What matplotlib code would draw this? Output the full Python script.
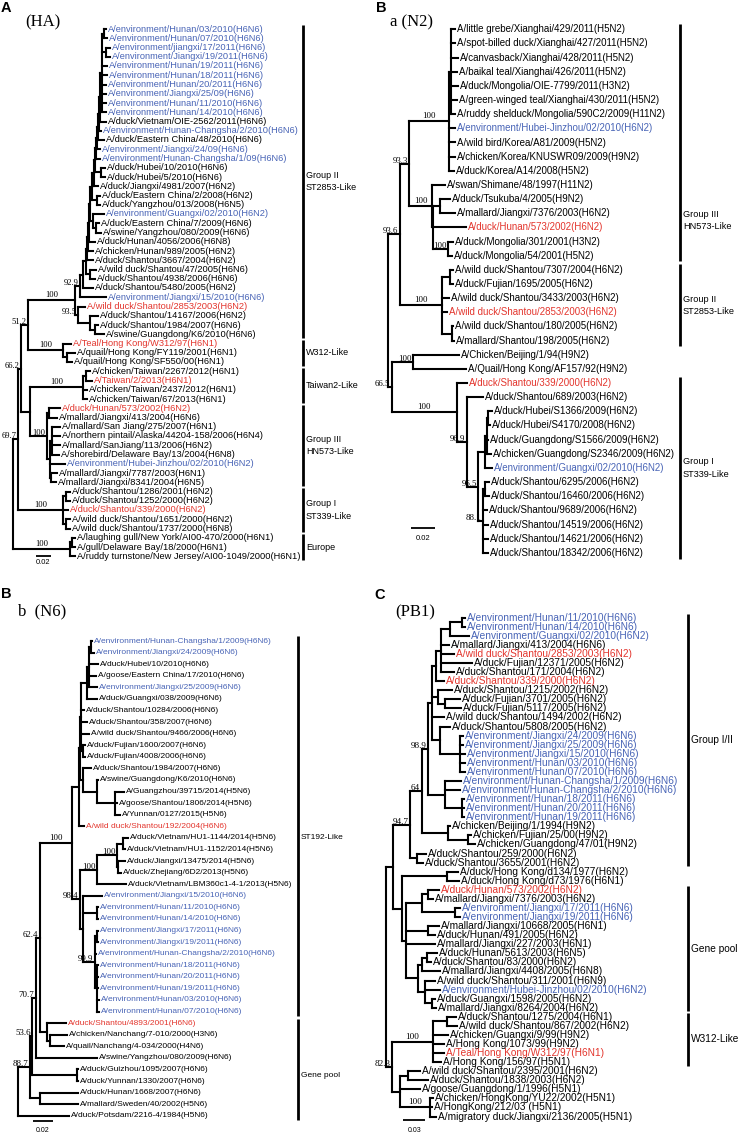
import matplotlib
matplotlib.use("Agg")
import matplotlib.pyplot as plt
from matplotlib.collections import LineCollection

W, H = 739, 1135
BLUE = "#4864b6"
RED = "#e3352d"
INK = {"k": "black", "b": BLUE, "r": RED}
SANS = "Liberation Sans"
SERIF = "Liberation Serif"

# distances from the root are in 1e-3 substitutions/site
# nodes: (first tip, last tip, distance from root, bootstrap)

#------------------------------------------------
#----------------- (HA) -------------------------
#------------------------------------------------
ha_labels = [
    "A/environment/Hunan/03/2010(H6N6)", "A/environment/Hunan/07/2010(H6N6)",
    "A/environment/jiangxi/17/2011(H6N6)", "A/environment/Jiangxi/19/2011(H6N6)",
    "A/environment/Hunan/19/2011(H6N6)", "A/environment/Hunan/18/2011(H6N6)",
    "A/environment/Hunan/20/2011(H6N6)", "A/environment/Jiangxi/25/09(H6N6)",
    "A/environment/Hunan/11/2010(H6N6)", "A/environment/Hunan/14/2010(H6N6)",
    "A/duck/Vietnam/OIE-2562/2011(H6N6)", "A/environment/Hunan-Changsha/2/2010(H6N6)",
    "A/duck/Eastern China/48/2010(H6N6)", "A/environment/Jiangxi/24/09(H6N6)",
    "A/environment/Hunan-Changsha/1/09(H6N6)", "A/duck/Hubei/10/2010(H6N6)",
    "A/duck/Hubei/5/2010(H6N6)", "A/duck/Jiangxi/4981/2007(H6N2)",
    "A/duck/Eastern China/2/2008(H6N2)", "A/duck/Yangzhou/013/2008(H6N5)",
    "A/environment/Guangxi/02/2010(H6N2)", "A/duck/Eastern China/7/2009(H6N6)",
    "A/swine/Yangzhou/080/2009(H6N6)", "A/duck/Hunan/4056/2006(H6N8)",
    "A/chicken/Hunan/989/2005(H6N2)", "A/duck/Shantou/3667/2004(H6N2)",
    "A/wild duck/Shantou/47/2005(H6N6)", "A/duck/Shantou/4938/2006(H6N6)",
    "A/duck/Shantou/5480/2005(H6N2)", "A/environment/Jiangxi/15/2010(H6N6)",
    "A/wild duck/Shantou/2853/2003(H6N2)", "A/duck/Shantou/14167/2006(H6N2)",
    "A/duck/Shantou/1984/2007(H6N6)", "A/swine/Guangdong/K6/2010(H6N6)",
    "A/Teal/Hong Kong/W312/97(H6N1)", "A/quail/Hong Kong/FY119/2001(H6N1)",
    "A/quail/Hong Kong/SF550/00(H6N1)", "A/chicken/Taiwan/2267/2012(H6N1)",
    "A/Taiwan/2/2013(H6N1)", "A/chicken/Taiwan/2437/2012(H6N1)",
    "A/chicken/Taiwan/67/2013(H6N1)", "A/duck/Hunan/573/2002(H6N2)",
    "A/mallard/Jiangxi/413/2004(H6N6)", "A/mallard/San Jiang/275/2007(H6N1)",
    "A/northern pintail/Alaska/44204-158/2006(H6N4)", "A/mallard/SanJiang/113/2006(H6N2)",
    "A/shorebird/Delaware Bay/13/2004(H6N8)", "A/environment/Hubei-Jinzhou/02/2010(H6N2)",
    "A/mallard/Jiangxi/7787/2003(H6N1)", "A/mallard/Jiangxi/8341/2004(H6N5)",
    "A/duck/Shantou/1286/2001(H6N2)", "A/duck/Shantou/1252/2000(H6N2)",
    "A/duck/Shantou/339/2000(H6N2)", "A/wild duck/Shantou/1651/2000(H6N2)",
    "A/wild duck/Shantou/1737/2000(H6N8)", "A/laughing gull/New York/AI00-470/2000(H6N1)",
    "A/gull/Delaware Bay/18/2000(H6N1)", "A/ruddy turnstone/New Jersey/AI00-1049/2000(H6N1)",
]
ha_colors = "bbbbbbbbbbkbkbbkkkkkbkkkkkkkkbrkkkrkkkrkkrkkkkkbkkkkrkkkkk"
ha_tip_depth = [
    126.9, 128.2, 132.3, 132.3, 128.2, 128.2, 126.9, 126.9, 126.9, 126.9,
    126.9, 120.1, 124.2, 118.7, 118.7, 125.5, 125.5, 116.0, 118.7, 118.7,
    124.2, 117.4, 120.1, 111.9, 109.2, 109.2, 113.3, 111.9, 109.2, 126.9,
    98.3, 116.0, 116.0, 124.2, 79.3, 84.7, 80.6, 105.1, 107.8, 101.0,
    101.0, 64.3, 60.2, 64.3, 64.3, 64.3, 63.0, 71.1, 60.2, 58.9,
    77.9, 77.9, 75.2, 77.9, 77.9, 84.7, 84.7, 84.7,
]
ha_nodes = [
    (0, 57, 0.0, None), (0, 54, 7.2, 69.7), (0, 49, 11.3, 66.2), (0, 36, 20.8, 51.2),
    (37, 49, 23.5, None), (0, 33, 84.7, 100), (0, 29, 91.5, 92.9), (0, 28, 95.6, None),
    (0, 27, 99.7, None), (26, 27, 105.1, None), (0, 25, 101.0, None), (0, 24, 102.4, None),
    (0, 23, 103.8, None), (0, 22, 105.1, None), (20, 22, 109.2, None), (21, 22, 113.3, None),
    (0, 19, 107.8, None), (18, 19, 114.6, None), (0, 17, 110.6, None), (0, 16, 111.9, None),
    (15, 16, 120.1, None), (0, 14, 113.3, None), (0, 13, 114.6, None), (0, 12, 116.0, None),
    (0, 11, 117.4, None), (0, 10, 118.7, None), (0, 9, 121.4, None), (0, 1, 124.2, None),
    (2, 3, 126.9, None), (30, 33, 88.8, 93.5), (31, 33, 105.1, None), (32, 33, 111.9, None),
    (34, 36, 68.4, 100), (35, 36, 73.8, None), (37, 40, 95.6, 100), (37, 38, 99.7, None),
    (41, 49, 46.6, 100), (41, 42, 49.4, None), (43, 49, 50.7, None), (43, 46, 53.4, None),
    (48, 49, 52.1, None), (50, 54, 68.4, 100), (50, 51, 72.5, None), (53, 54, 72.5, None),
    (55, 57, 77.9, 100), (55, 56, 80.6, None),
]
ha_groups = [
    (0, 33, "Group II\nST2853-Like"), (34, 36, "W312-Like"), (37, 40, "Taiwan2-Like"),
    (41, 49, "Group III\nHN573-Like"), (50, 54, "Group I\nST339-Like"), (55, 57, "Europe"),
]
ha_scale = 20

#------------------------------------------------
#----------------- a (N2) -----------------------
#------------------------------------------------
n2_labels = [
    "A/little grebe/Xianghai/429/2011(H5N2)", "A/spot-billed duck/Xianghai/427/2011(H5N2)",
    "A/canvasback/Xianghai/428/2011(H5N2)", "A/baikal teal/Xianghai/426/2011(H5N2)",
    "A/duck/Mongolia/OIE-7799/2011(H3N2)", "A/green-winged teal/Xianghai/430/2011(H5N2)",
    "A/ruddy shelduck/Mongolia/590C2/2009(H11N2)", "A/environment/Hubei-Jinzhou/02/2010(H6N2)",
    "A/wild bird/Korea/A81/2009(H5N2)", "A/chicken/Korea/KNUSWR09/2009(H9N2)",
    "A/duck/Korea/A14/2008(H5N2)", "A/swan/Shimane/48/1997(H11N2)",
    "A/duck/Tsukuba/4/2005(H9N2)", "A/mallard/Jiangxi/7376/2003(H6N2)",
    "A/duck/Hunan/573/2002(H6N2)", "A/duck/Mongolia/301/2001(H3N2)",
    "A/duck/Mongolia/54/2001(H5N2)", "A/wild duck/Shantou/7307/2004(H6N2)",
    "A/duck/Fujian/1695/2005(H6N2)", "A/wild duck/Shantou/3433/2003(H6N2)",
    "A/wild duck/Shantou/2853/2003(H6N2)", "A/wild duck/Shantou/180/2005(H6N2)",
    "A/mallard/Shantou/198/2005(H6N2)", "A/Chicken/Beijing/1/94(H9N2)",
    "A/Quail/Hong Kong/AF157/92(H9N2)", "A/duck/Shantou/339/2000(H6N2)",
    "A/duck/Shantou/689/2003(H6N2)", "A/duck/Hubei/S1366/2009(H6N2)",
    "A/duck/Hubei/S4170/2008(H6N2)", "A/duck/Guangdong/S1566/2009(H6N2)",
    "A/chicken/Guangdong/S2346/2009(H6N2)", "A/environment/Guangxi/02/2010(H6N2)",
    "A/duck/Shantou/6295/2006(H6N2)", "A/duck/Shantou/16460/2006(H6N2)",
    "A/duck/Shantou/9689/2006(H6N2)", "A/duck/Shantou/14519/2006(H6N2)",
    "A/duck/Shantou/14621/2006(H6N2)", "A/duck/Shantou/18342/2006(H6N2)",
]
n2_colors = "kkkkkkkbkkkkkkrkkkkkrkkkkrkkkkkbkkkkkk"
n2_tip_depth = [
    54.9, 54.9, 57.4, 56.5, 57.4, 56.5, 54.9, 54.9, 54.9, 54.9,
    54.1, 46.4, 50.8, 54.9, 63.9, 53.2, 52.4, 53.2, 53.2, 50.0,
    48.3, 53.2, 54.1, 58.2, 63.9, 64.8, 77.9, 85.3, 83.7, 82.1,
    84.5, 85.3, 82.9, 82.9, 81.2, 82.1, 82.1, 82.1,
]
n2_nodes = [
    (0, 37, 0.0, None), (0, 22, 9.6, 93.6), (0, 16, 17.3, 93.3), (0, 10, 50.2, 100),
    (0, 6, 52.0, None), (11, 16, 35.7, 100), (12, 16, 37.2, None), (12, 13, 42.5, None),
    (15, 16, 49.4, 100), (17, 22, 43.9, 100), (17, 18, 50.8, None), (21, 22, 52.2, None),
    (23, 37, 2.8, 66.5), (23, 24, 20.3, 100), (25, 37, 56.3, 100), (26, 37, 64.5, 96.9),
    (27, 37, 74.1, 96.5), (27, 31, 79.6, None), (27, 30, 81.2, None), (27, 28, 82.3, None),
    (32, 37, 78.2, 88.1), (32, 33, 80.0, None),
]
n2_groups = [
    (0, 16, "Group III\nHN573-Like"), (17, 22, "Group II\nST2853-Like"),
    (25, 37, "Group I\nST339-Like"),
]
n2_scale = 20

#------------------------------------------------
#----------------- b (N6) -----------------------
#------------------------------------------------
n6_labels = [
    "A/environment/Hunan-Changsha/1/2009(H6N6)", "A/environment/Jiangxi/24/2009(H6N6)",
    "A/duck/Hubei/10/2010(H6N6)", "A/goose/Eastern China/17/2010(H6N6)",
    "A/environment/Jiangxi/25/2009(H6N6)", "A/duck/Guangxi/038/2009(H6N6)",
    "A/duck/Shantou/10284/2006(H6N6)", "A/duck/Shantou/358/2007(H6N6)",
    "A/wild duck/Shantou/9466/2006(H6N6)", "A/duck/Fujian/1600/2007(H6N6)",
    "A/duck/Fujian/4008/2006(H6N6)", "A/duck/Shantou/1984/2007(H6N6)",
    "A/swine/Guangdong/K6/2010(H6N6)", "A/Guangzhou/39715/2014(H5N6)",
    "A/goose/Shantou/1806/2014(H5N6)", "A/Yunnan/0127/2015(H5N6)",
    "A/wild duck/Shantou/192/2004(H6N6)", "A/duck/Vietnam/HU1-1144/2014(H5N6)",
    "A/duck/Vietnam/HU1-1152/2014(H5N6)", "A/duck/Jiangxi/13475/2014(H5N6)",
    "A/duck/Zhejiang/6D2/2013(H5N6)", "A/duck/Vietnam/LBM360c1-4-1/2013(H5N6)",
    "A/environment/Jiangxi/15/2010(H6N6)", "A/environment/Hunan/11/2010(H6N6)",
    "A/environment/Hunan/14/2010(H6N6)", "A/environment/Jiangxi/17/2011(H6N6)",
    "A/environment/Jiangxi/19/2011(H6N6)", "A/environment/Hunan-Changsha/2/2010(H6N6)",
    "A/environment/Hunan/18/2011(H6N6)", "A/environment/Hunan/20/2011(H6N6)",
    "A/environment/Hunan/19/2011(H6N6)", "A/environment/Hunan/03/2010(H6N6)",
    "A/environment/Hunan/07/2010(H6N6)", "A/duck/Shantou/4893/2001(H6N6)",
    "A/chicken/Nanchang/7-010/2000(H3N6)", "A/quail/Nanchang/4-034/2000(H4N6)",
    "A/swine/Yangzhou/080/2009(H6N6)", "A/duck/Guizhou/1095/2007(H6N6)",
    "A/duck/Yunnan/1330/2007(H6N6)", "A/duck/Hunan/1668/2007(H6N6)",
    "A/mallard/Sweden/40/2002(H5N6)", "A/duck/Potsdam/2216-4/1984(H5N6)",
]
n6_colors = "bbkkbkkkkkkkkkkkrkkkkkbbbbbbbbbbbrkkkkkkkk"
n6_tip_depth = [
    74.0, 75.7, 80.0, 78.3, 79.3, 79.3, 66.0, 69.3, 70.7, 67.3,
    67.3, 72.8, 80.2, 105.5, 98.8, 102.2, 65.5, 110.2, 106.8, 106.8,
    102.8, 107.8, 83.5, 79.5, 79.5, 80.2, 80.2, 77.8, 80.2, 80.2,
    80.2, 81.2, 81.2, 47.8, 48.8, 46.2, 78.8, 60.2, 60.2, 59.5,
    59.5, 51.2,
]
n6_nodes = [
    (0, 41, 0.0, None), (0, 40, 12.0, 88.7), (0, 38, 14.0, 53.6), (39, 40, 22.0, None),
    (0, 36, 18.0, 70.7), (37, 38, 58.7, None), (0, 35, 22.0, 62.4), (33, 35, 29.0, None),
    (34, 35, 32.0, None), (0, 32, 54.0, 100), (0, 16, 61.0, None), (0, 15, 62.0, None),
    (0, 10, 63.0, None), (0, 5, 69.0, None), (0, 4, 71.3, None), (0, 1, 73.0, None),
    (9, 10, 65.0, None), (11, 15, 65.3, None), (12, 15, 78.7, None), (13, 15, 97.0, None),
    (17, 32, 62.0, 98.4), (17, 21, 78.7, 100), (17, 20, 98.7, 100), (17, 18, 105.0, None),
    (19, 20, 100.3, None), (22, 32, 65.0, None), (23, 24, 78.7, None), (25, 32, 77.0, 99.9),
    (25, 26, 78.5, None), (28, 32, 78.5, None),
]
n6_groups = [(0, 32, "ST192-Like"), (33, 41, "Gene pool")]
n6_scale = 20

#------------------------------------------------
#----------------- (PB1) ------------------------
#------------------------------------------------
pb1_labels = [
    "A/environment/Hunan/11/2010(H6N6)", "A/environment/Hunan/14/2010(H6N6)",
    "A/environment/Guangxi/02/2010(H6N2)", "A/mallard/Jiangxi/413/2004(H6N6)",
    "A/wild duck/Shantou/2853/2003(H6N2)", "A/duck/Fujian/12371/2005(H6N2)",
    "A/duck/Shantou/171/2004(H6N2)", "A/duck/Shantou/339/2000(H6N2)",
    "A/duck/Shantou/1215/2002(H6N2)", "A/duck/Fujian/3701/2005(H6N2)",
    "A/duck/Fujian/5117/2005(H6N2)", "A/wild duck/Shantou/1494/2002(H6N2)",
    "A/duck/Shantou/5808/2005(H6N2)", "A/environment/Jiangxi/24/2009(H6N6)",
    "A/environment/Jiangxi/25/2009(H6N6)", "A/environment/Jiangxi/15/2010(H6N6)",
    "A/environment/Hunan/03/2010(H6N6)", "A/environment/Hunan/07/2010(H6N6)",
    "A/environment/Hunan-Changsha/1/2009(H6N6)", "A/environment/Hunan-Changsha/2/2010(H6N6)",
    "A/environment/Hunan/18/2011(H6N6)", "A/environment/Hunan/20/2011(H6N6)",
    "A/environment/Hunan/19/2011(H6N6)", "A/chicken/Beijing/1/1994(H9N2)",
    "A/chicken/Fujian/25/00(H9N2)", "A/chicken/Guangdong/47/01(H9N2)",
    "A/duck/Shantou/259/2000(H6N2)", "A/duck/Shantou/3655/2001(H6N2)",
    "A/duck/Hong Kong/d134/1977(H6N2)", "A/duck/Hong Kong/d73/1976(H6N1)",
    "A/duck/Hunan/573/2002(H6N2)", "A/mallard/Jiangxi/7376/2003(H6N2)",
    "A/environment/Jiangxi/17/2011(H6N6)", "A/environment/Jiangxi/19/2011(H6N6)",
    "A/mallard/Jiangxi/10668/2005(H6N1)", "A/duck/Hunan/491/2005(H6N2)",
    "A/mallard/Jiangxi/227/2003(H6N1)", "A/duck/Hunan/5613/2003(H6N5)",
    "A/duck/Shantou/83/2000(H6N2)", "A/mallard/Jiangxi/4408/2005(H6N8)",
    "A/wild duck/Shantou/311/2001(H6N9)", "A/environment/Hubei-Jinzhou/02/2010(H6N2)",
    "A/duck/Guangxi/1598/2005(H6N2)", "A/mallard/Jiangxi/8264/2004(H6N2)",
    "A/duck/Shantou/1275/2004(H6N1)", "A/wild duck/Shantou/867/2002(H6N2)",
    "A/chicken/Guangxi/9/99(H9N2)", "A/Hong Kong/1073/99(H9N2)",
    "A/Teal/Hong Kong/W312/97(H6N1)", "A/Hong Kong/156/97(H5N1)",
    "A/wild duck/Shantou/2395/2001(H6N2)", "A/duck/Shantou/1838/2003(H6N2)",
    "A/goose/Guangdong/1/1996(H5N1)", "A/chicken/HongKong/YU22/2002(H5N1)",
    "A/HongKong/212/03 (H5N1)", "A/migratory duck/Jiangxi/2136/2005(H5N1)",
]
pb1_colors = "bbbkrkkrkkkkkbbbbbbbbbbkkkkkkkrkbbkkkkkkkbkkkkkkrkkkkkkk"
pb1_tip_depth = [
    108.8, 109.7, 114.4, 87.1, 94.0, 118.9, 94.0, 80.2, 91.3, 101.9,
    104.1, 80.2, 88.1, 106.5, 106.5, 108.8, 108.8, 108.8, 104.1, 101.9,
    107.9, 107.9, 107.9, 88.1, 118.0, 123.5, 55.7, 51.2, 99.6, 100.5,
    72.9, 65.0, 101.9, 101.9, 72.9, 67.4, 67.4, 70.9, 61.8, 74.3,
    67.4, 74.3, 68.2, 69.6, 97.2, 98.6, 85.7, 80.2, 80.2, 76.5,
    46.6, 58.1, 46.6, 65.0, 63.6, 69.6,
]
pb1_nodes = [
    (0, 55, 0.0, None), (0, 43, 9.3, None), (0, 27, 33.2, 94.7), (0, 25, 49.4, 64),
    (0, 22, 58.1, 98.9), (0, 17, 63.2, None), (0, 7, 69.1, None), (0, 6, 76.1, None),
    (0, 2, 88.5, None), (0, 1, 104.7, None), (8, 10, 72.3, None), (9, 10, 81.6, None),
    (12, 17, 74.7, None), (13, 17, 102.3, None), (18, 22, 81.6, None), (20, 22, 104.7, None),
    (23, 25, 85.7, None), (24, 25, 113.4, None), (26, 27, 42.9, None), (28, 43, 21.7, None),
    (28, 29, 83.9, None), (30, 43, 27.7, None), (30, 33, 49.4, None), (30, 31, 58.5, None),
    (32, 33, 95.4, None), (34, 35, 58.5, None), (37, 43, 44.3, None), (37, 39, 49.4, None),
    (37, 38, 56.3, None), (40, 43, 53.9, None), (42, 43, 63.2, None), (44, 55, 7.9, 82.3),
    (44, 49, 65.4, 100), (44, 45, 83.9, None), (50, 55, 19.4, None), (50, 51, 30.4, None),
    (53, 55, 60.9, 100),
]
pb1_groups = [(0, 27, "Group I/II"), (30, 43, "Gene pool"), (44, 49, "W312-Like")]
pb1_scale = 30

# page layout of each panel, in pixels of the 739x1135 canvas
LAYOUT = {
    "ha": dict(root_px=12.7, ppu=0.735, tip0=29.0, sp=9.25, bar_px=303,
               tip_fs=6.65, grp_fs=6.5, boot_fs=6.2, scale_px=(36, 556), scale_dy=7, scale_fs=5.4,
               label_rows={}),
    "n2": dict(root_px=388.3, ppu=1.215, tip0=29.3, sp=14.15, bar_px=680,
               tip_fs=7.0, grp_fs=6.6, boot_fs=6.4, scale_px=(410.7, 528.3), scale_dy=10, scale_fs=5.5,
               label_rows={0: 13.5}),
    "n6": dict(root_px=18, ppu=1.0, tip0=641.0, sp=11.58, bar_px=298,
               tip_fs=6.06, grp_fs=6.0, boot_fs=6.4, scale_px=(33, 1121), scale_dy=10, scale_fs=5.0,
               label_rows={0: 17.0, 1: 37.5}),
    "pb1": dict(root_px=386, ppu=0.7233, tip0=617.7, sp=9.07, bar_px=688.3,
                tip_fs=7.26, grp_fs=7.3, boot_fs=6.6, scale_px=(403.3, 1120), scale_dy=11, scale_fs=5.0,
                label_rows={}),
}

fig = plt.figure(figsize=(W / 100, H / 100), dpi=100)


def draw_tree(labels, colors, tip_depth, nodes, groups, scale_len, lay):
    ax = fig.add_axes([0, 0, 1, 1])
    ax.set_axis_off()
    ax.patch.set_alpha(0)
    ppu, sp = lay["ppu"], lay["sp"]
    ax.set_xlim(-lay["root_px"] / ppu, (W - lay["root_px"]) / ppu)
    ax.set_ylim((H - lay["tip0"]) / sp, -lay["tip0"] / sp)

    by_size = sorted(nodes, key=lambda nd: nd[1] - nd[0])

    def parent(first, last):
        for nd in by_size:
            if nd[0] <= first and last <= nd[1] and (nd[0], nd[1]) != (first, last):
                return nd
        return None

    # children of every node: (first index, y, distance)
    kids = {nd[:2]: [] for nd in nodes}
    for i in range(len(labels)):
        kids[parent(i, i)[:2]].append((i, float(i), tip_depth[i]))
    node_y = {}
    for nd in by_size:
        ch = sorted(kids[nd[:2]])
        node_y[nd[:2]] = (ch[0][1] + ch[-1][1]) / 2
        p = parent(nd[0], nd[1])
        if p is not None:
            kids[p[:2]].append((nd[0], node_y[nd[:2]], nd[2]))

    segs = []
    for nd in nodes:
        ys = [c[1] for c in kids[nd[:2]]]
        segs.append([(nd[2], min(ys)), (nd[2], max(ys))])
        for c in kids[nd[:2]]:
            segs.append([(nd[2], c[1]), (c[2], c[1])])
    ax.add_collection(LineCollection(segs, colors="black", linewidths=1.5,
                                     capstyle="projecting"))

    # tip names
    gap = 2.0 / ppu
    for i, lab in enumerate(labels):
        ax.text(tip_depth[i] + gap, i, lab, color=INK[colors[i]], fontsize=lay["tip_fs"],
                family=SANS, ha="left", va="center")

    # bootstrap values
    for nd in nodes:
        if nd[3] is None:
            continue
        p = parent(nd[0], nd[1])
        txt = f"{nd[3]:g}"
        y = node_y[nd[:2]]
        branch_px = (nd[2] - p[2]) * ppu
        text_px = 0.5 * len(txt) * lay["boot_fs"] * 100 / 72
        if branch_px > text_px + 8:
            ax.text((p[2] + nd[2]) / 2, y - 1.0 / sp, txt, ha="center", va="bottom",
                    fontsize=lay["boot_fs"], family=SERIF)
        else:
            ax.text(nd[2] - 1.5 / ppu, y - 3.0 / sp, txt, ha="right", va="center",
                    fontsize=lay["boot_fs"], family=SERIF)

    # clade bars
    bx = (lay["bar_px"] - lay["root_px"]) / ppu
    for k, (first, last, name) in enumerate(groups):
        ax.plot([bx, bx], [first - 0.4, last + 0.4], color="black", lw=2.0,
                solid_capstyle="butt")
        row = lay["label_rows"].get(k, (first + last) / 2)
        ax.text(bx + 3.0 / ppu, row, name, fontsize=lay["grp_fs"], family=SANS,
                ha="left", va="center", linespacing=1.45)

    # scale bar
    sx = (lay["scale_px"][0] - lay["root_px"]) / ppu
    sy = (lay["scale_px"][1] - lay["tip0"]) / sp
    ax.plot([sx, sx + scale_len], [sy, sy], color="black", lw=1.3, solid_capstyle="butt")
    ax.text(sx + scale_len / 2, sy + lay["scale_dy"] / sp, f"{scale_len / 1000:g}",
            ha="center", va="center", fontsize=lay["scale_fs"], family=SANS)


def page_text(x_px, y_px, s, **kw):
    fig.text(x_px / W, 1 - y_px / H, s, ha="left", va="center", **kw)


draw_tree(ha_labels, ha_colors, ha_tip_depth, ha_nodes, ha_groups, ha_scale, LAYOUT["ha"])
draw_tree(n2_labels, n2_colors, n2_tip_depth, n2_nodes, n2_groups, n2_scale, LAYOUT["n2"])
draw_tree(n6_labels, n6_colors, n6_tip_depth, n6_nodes, n6_groups, n6_scale, LAYOUT["n6"])
draw_tree(pb1_labels, pb1_colors, pb1_tip_depth, pb1_nodes, pb1_groups, pb1_scale, LAYOUT["pb1"])

# panel letters and titles
page_text(1, 8, "A", fontsize=10.5, fontweight="bold", family=SANS)
page_text(25, 22, "(HA)", fontsize=12, family=SERIF)
page_text(376, 8, "B", fontsize=10.5, fontweight="bold", family=SANS)
page_text(390, 22, "a (N2)", fontsize=12, family=SERIF)
page_text(1, 594, "B", fontsize=10.5, fontweight="bold", family=SANS)
page_text(18, 611, "b  (N6)", fontsize=12, family=SERIF)
page_text(374, 595, "C", fontsize=10.5, fontweight="bold", family=SANS)
page_text(395, 612, "(PB1)", fontsize=12, family=SERIF)

fig.savefig("out.png", dpi=100)
